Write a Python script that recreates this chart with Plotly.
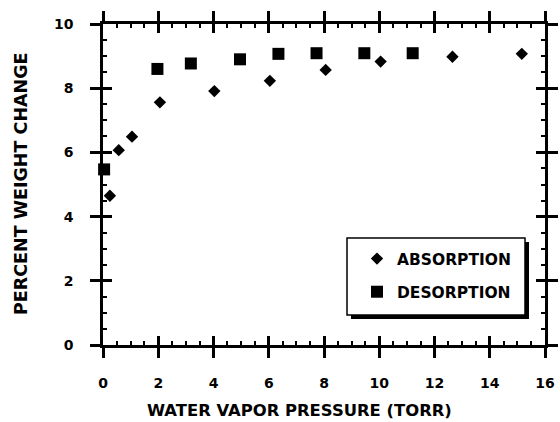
import plotly.graph_objects as go

# Data
absorption_x = [0.25, 0.57, 1.05, 2.06, 4.03, 6.04, 8.06, 10.05, 12.65, 15.16]
absorption_y = [4.65, 6.07, 6.49, 7.56, 7.91, 8.23, 8.57, 8.83, 8.98, 9.07]
desorption_x = [0.04, 1.97, 3.18, 4.96, 6.35, 7.73, 9.46, 11.21]
desorption_y = [5.47, 8.60, 8.77, 8.90, 9.07, 9.09, 9.09, 9.09]

x_ticks = [0, 2, 4, 6, 8, 10, 12, 14, 16]
y_ticks = [0, 2, 4, 6, 8, 10]

FONT = "DejaVu Sans"
L, R, T, B = 103, 15, 24, 77
W, H = 560, 422
PW, PH = W - L - R, H - T - B

def px(xp):
    return (xp - L) / PW

def py(yp):
    return (H - B - yp) / PH

fig = go.Figure()
fig.add_trace(go.Scatter(
    x=absorption_x, y=absorption_y, mode="markers", name="ABSORPTION",
    marker=dict(symbol="diamond", size=9.5, color="black"),
    cliponaxis=False, legendgroup="a"))
fig.add_trace(go.Scatter(
    x=desorption_x, y=desorption_y, mode="markers", name="DESORPTION",
    marker=dict(symbol="square", size=12, color="black"),
    cliponaxis=False, legendgroup="d"))
# helper trace to activate the overlay axes (inside ticks)
fig.add_trace(go.Scatter(x=[None], y=[None], xaxis="x2", yaxis="y2",
                         showlegend=False, hoverinfo="skip"))

axis_common = dict(showgrid=False, zeroline=False, linecolor="black",
                   tickcolor="black", tickwidth=2.5, automargin=False)

fig.update_layout(
    width=W, height=H,
    margin=dict(l=L, r=R, t=T, b=B, autoexpand=False),
    paper_bgcolor="white", plot_bgcolor="white",
    showlegend=True,
    xaxis=dict(range=[0, 16], tickvals=x_ticks, ticktext=[str(v) for v in x_ticks],
               showline=True, linewidth=2.5, mirror="ticks",
               ticks="outside", ticklen=10, ticklabelstandoff=13,
               tickfont=dict(family=FONT, size=14, color="black", weight="bold"),
               **axis_common),
    yaxis=dict(range=[0, 10], tickvals=y_ticks, ticktext=[str(v) for v in y_ticks],
               showline=True, linewidth=2.5, mirror="ticks",
               ticks="outside", ticklen=10, ticklabelstandoff=14,
               tickfont=dict(family=FONT, size=14, color="black", weight="bold"),
               **axis_common),
    xaxis2=dict(range=[0, 16], overlaying="x", side="bottom", tickvals=x_ticks,
                showticklabels=False, showline=False, mirror="ticks",
                ticks="inside", ticklen=9,
                minor=dict(ticks="inside", ticklen=4, tickwidth=2, dtick=0.5,
                           tick0=0, tickcolor="black"),
                **axis_common),
    yaxis2=dict(range=[0, 10], overlaying="y", side="left", tickvals=y_ticks,
                showticklabels=False, showline=False, mirror="ticks",
                ticks="inside", ticklen=9,
                minor=dict(ticks="inside", ticklen=4, tickwidth=2, dtick=0.5,
                           tick0=0, tickcolor="black"),
                **axis_common),
    legend=dict(x=px(357), y=py(242), xanchor="left", yanchor="top",
                bgcolor="rgba(0,0,0,0)", borderwidth=0,
                traceorder="grouped", tracegroupgap=10,
                font=dict(family=FONT, size=15.5, color="black", weight="bold")),
    shapes=[
        dict(type="rect", xref="paper", yref="paper",
             x0=px(351), x1=px(529), y0=py(319), y1=py(242),
             fillcolor="black", line=dict(width=0), layer="above"),
        dict(type="rect", xref="paper", yref="paper",
             x0=px(347), x1=px(525), y0=py(315), y1=py(238),
             fillcolor="white", line=dict(color="black", width=1.5), layer="above"),
    ],
    annotations=[
        dict(text="WATER VAPOR PRESSURE (TORR)", xref="paper", yref="paper",
             x=px(299), y=py(410), xanchor="center", yanchor="middle",
             showarrow=False,
             font=dict(family=FONT, size=16.4, color="black", weight="bold")),
        dict(text="PERCENT WEIGHT CHANGE", xref="paper", yref="paper",
             x=px(21), y=py(184), xanchor="center", yanchor="middle",
             textangle=-90, showarrow=False,
             font=dict(family=FONT, size=17.5, color="black", weight="bold")),
    ],
)

fig.write_html("out.html", config={"displayModeBar": False},
               post_script="document.body.style.margin='0';document.body.style.padding='0';")
